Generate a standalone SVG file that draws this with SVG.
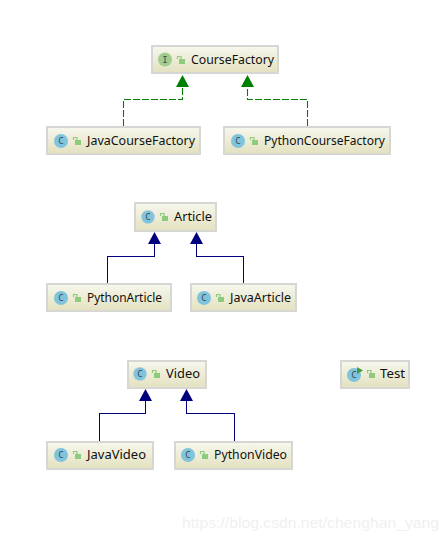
<svg xmlns="http://www.w3.org/2000/svg" width="448" height="541" viewBox="0 0 448 541">
<style>
.box{fill:url(#g);stroke:#d6d6d2;stroke-width:2}
.t{font-family:"Noto Sans","DejaVu Sans",sans-serif;font-size:12.5px;fill:#111}
.c{fill:#7fc4dc;}
.i{fill:#a3cd8e}
.l{font-family:"DejaVu Sans Mono",monospace;font-size:9px;fill:#3c4a50;text-anchor:middle}
.d{fill:none;stroke:#008000;stroke-width:1.100;stroke-dasharray:7 2}
.s{fill:none;stroke:#00007f;stroke-width:1;shape-rendering:crispEdges}
.lk{fill:#8fcb7c}
.lo{fill:none;stroke:#8fcb7c;stroke-width:1.2}
</style>
<defs>
<linearGradient id="g" x1="0" y1="0" x2="0" y2="1"><stop offset="0" stop-color="#f7f7ee"/><stop offset="1" stop-color="#e3e1bf"/></linearGradient>
<g id="lock"><path class="lo" d="M0.5 3V0.5H4V3"/><rect class="lk" x="2" y="3" width="6" height="5"/></g>
</defs>
<rect width="448" height="541" fill="#fff"/>
<g id="connectors">
<path class="d" d="M123.500 126V99.500H182.500V86"/><path d="M182.500 75l6.500 12h-13z" fill="#008000"/>
<path class="d" d="M307.500 126V99.500H247.500V86"/><path d="M247.500 75l6.500 12h-13z" fill="#008000"/>
<path class="s" d="M107.500 283V256.500H154.500V243"/><path d="M154.500 232l6.500 12h-13z" fill="#00007f"/>
<path class="s" d="M243.500 283V256.500H196.500V243"/><path d="M196.500 232l6.500 12h-13z" fill="#00007f"/>
<path class="s" d="M99.500 441V413.500H145.500V400"/><path d="M145.500 389l6.500 12h-13z" fill="#00007f"/>
<path class="s" d="M234.500 441V413.500H186.500V400"/><path d="M186.500 389l6.500 12h-13z" fill="#00007f"/>
</g>
<g id="CourseFactory"><rect class="box" x="152" y="46" width="126" height="27"/><circle class="i" cx="165" cy="59.500" r="7"/><text class="l" x="165" y="62.500">I</text><use href="#lock" x="177" y="56"/><text class="t" x="191" y="64" textLength="83" lengthAdjust="spacingAndGlyphs">CourseFactory</text></g>
<g id="JavaCourseFactory"><rect class="box" x="47" y="127" width="153" height="27"/><circle class="c" cx="61" cy="141" r="7"/><text class="l" x="61" y="144">C</text><use href="#lock" x="73" y="137"/><text class="t" x="87" y="145" textLength="108" lengthAdjust="spacingAndGlyphs">JavaCourseFactory</text></g>
<g id="PythonCourseFactory"><rect class="box" x="224" y="127" width="166" height="27"/><circle class="c" cx="238" cy="141" r="7"/><text class="l" x="238" y="144">C</text><use href="#lock" x="250" y="137"/><text class="t" x="264" y="145" textLength="121" lengthAdjust="spacingAndGlyphs">PythonCourseFactory</text></g>
<g id="Article"><rect class="box" x="135" y="203" width="81" height="28"/><rect x="141" y="210" width="14" height="14" rx="6" fill="#dcdcd4"/><circle class="c" cx="148" cy="217" r="6.500"/><text class="l" x="148" y="220">C</text><use href="#lock" x="160" y="213"/><text class="t" x="174" y="221" textLength="38" lengthAdjust="spacingAndGlyphs">Article</text></g>
<g id="PythonArticle"><rect class="box" x="47" y="284" width="124" height="27"/><circle class="c" cx="61" cy="298" r="7"/><text class="l" x="61" y="301">C</text><use href="#lock" x="73" y="294"/><text class="t" x="87" y="302" textLength="75" lengthAdjust="spacingAndGlyphs">PythonArticle</text></g>
<g id="JavaArticle"><rect class="box" x="191" y="284" width="105" height="27"/><circle class="c" cx="204" cy="298" r="7"/><text class="l" x="204" y="301">C</text><use href="#lock" x="216" y="294"/><text class="t" x="230" y="302" textLength="61" lengthAdjust="spacingAndGlyphs">JavaArticle</text></g>
<g id="Video"><rect class="box" x="128" y="361" width="78" height="27"/><rect x="133" y="367" width="14" height="14" rx="6" fill="#dcdcd4"/><circle class="c" cx="140" cy="374" r="6.500"/><text class="l" x="140" y="377">C</text><use href="#lock" x="152" y="370"/><text class="t" x="166" y="378" textLength="34" lengthAdjust="spacingAndGlyphs">Video</text></g>
<g id="JavaVideo"><rect class="box" x="47" y="442" width="106" height="27"/><circle class="c" cx="61" cy="455" r="7"/><text class="l" x="61" y="458">C</text><use href="#lock" x="73" y="451"/><text class="t" x="87" y="459" textLength="59" lengthAdjust="spacingAndGlyphs">JavaVideo</text></g>
<g id="PythonVideo"><rect class="box" x="175" y="442" width="117" height="27"/><circle class="c" cx="188" cy="455" r="7"/><text class="l" x="188" y="458">C</text><use href="#lock" x="200" y="451"/><text class="t" x="214" y="459" textLength="73" lengthAdjust="spacingAndGlyphs">PythonVideo</text></g>
<g id="Test"><rect class="box" x="341" y="361" width="68" height="27"/><circle class="c" cx="354" cy="375" r="7"/><text class="l" x="354" y="378">C</text><path d="M357 367l6 3.500-6 3.500z" fill="#3f9f3f"/><use href="#lock" x="367" y="370"/><text class="t" x="380" y="378" textLength="25" lengthAdjust="spacingAndGlyphs">Test</text></g>
<text x="182" y="528" font-family="Liberation Sans,sans-serif" font-size="15.500" fill="#f0f0f0" textLength="257" lengthAdjust="spacingAndGlyphs">https://blog.csdn.net/chenghan_yang</text>
</svg>
